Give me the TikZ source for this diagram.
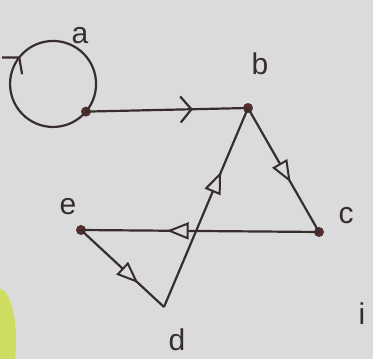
\documentclass[tikz,border=0pt]{standalone}
\usepackage{fontspec}
\setmainfont{Liberation Sans}
\usetikzlibrary{arrows.meta,decorations.markings}
\definecolor{bgcol}{RGB}{219,219,221}
\definecolor{ink}{RGB}{55,45,45}
\definecolor{dotcol}{RGB}{85,45,45}
\definecolor{blob}{RGB}{205,222,85}
\tikzset{
  tri/.tip={Triangle[fill=bgcol,length=22pt,width=17pt,line width=2pt]},
  chev/.tip={Straight Barb[length=11pt,width=26pt,line width=2.2pt]},
  edge/.style={draw=ink,line width=2.2pt},
  midtri/.style={postaction={decorate},decoration={markings,mark=at position #1 with {\arrow[ink]{tri}}}},
  midchev/.style={postaction={decorate},decoration={markings,mark=at position #1 with {\arrow[ink]{chev}}}},
  vdot/.style={circle,fill=dotcol,inner sep=0pt,minimum size=10pt},
  lab/.style={text=ink,font=\fontsize{30}{30}\selectfont,inner sep=0pt}
}
\begin{document}
\begin{tikzpicture}[x=1pt,y=1pt]
\fill[bgcol] (0,0) rectangle (373,359);
\useasboundingbox (0,0) rectangle (373,359);
\fill[blob,opacity=0.9] (0,18) ellipse[x radius=16pt,y radius=52pt];
% vertices
\coordinate (lc) at (53,275);
\node[vdot] (a) at (86,247.4) {};
\node[vdot] (b) at (248,251) {};
\node[vdot] (c) at (319,127) {};
\node[vdot] (e) at (81,129) {};
\coordinate (d) at (164,52);
% loop
\draw[edge,midchev=0.5] (a.center) arc[start angle=-40,end angle=-400,radius=43pt];
% edges
\draw[edge,midchev=0.66] (a.center) -- (b.center);
\draw[edge,midtri=0.6] (b.center) -- (c.center);
\draw[edge,midtri=0.68] (d) -- (b.center);
\draw[edge,midtri=0.64] (c.center) -- (e.center);
\draw[edge,midtri=0.69] (e.center) -- (d);
% labels
\node[lab] (la) at (80,323) {a};
\node[lab] (lb) at (260,295) {b};
\node[lab] (le) at (68,152) {e};
\node[lab] (lc2) at (346,143) {c};
\node[lab] (ld) at (177,19) {d};
\node[lab] (li) at (362,45) {i};
\end{tikzpicture}
\end{document}
